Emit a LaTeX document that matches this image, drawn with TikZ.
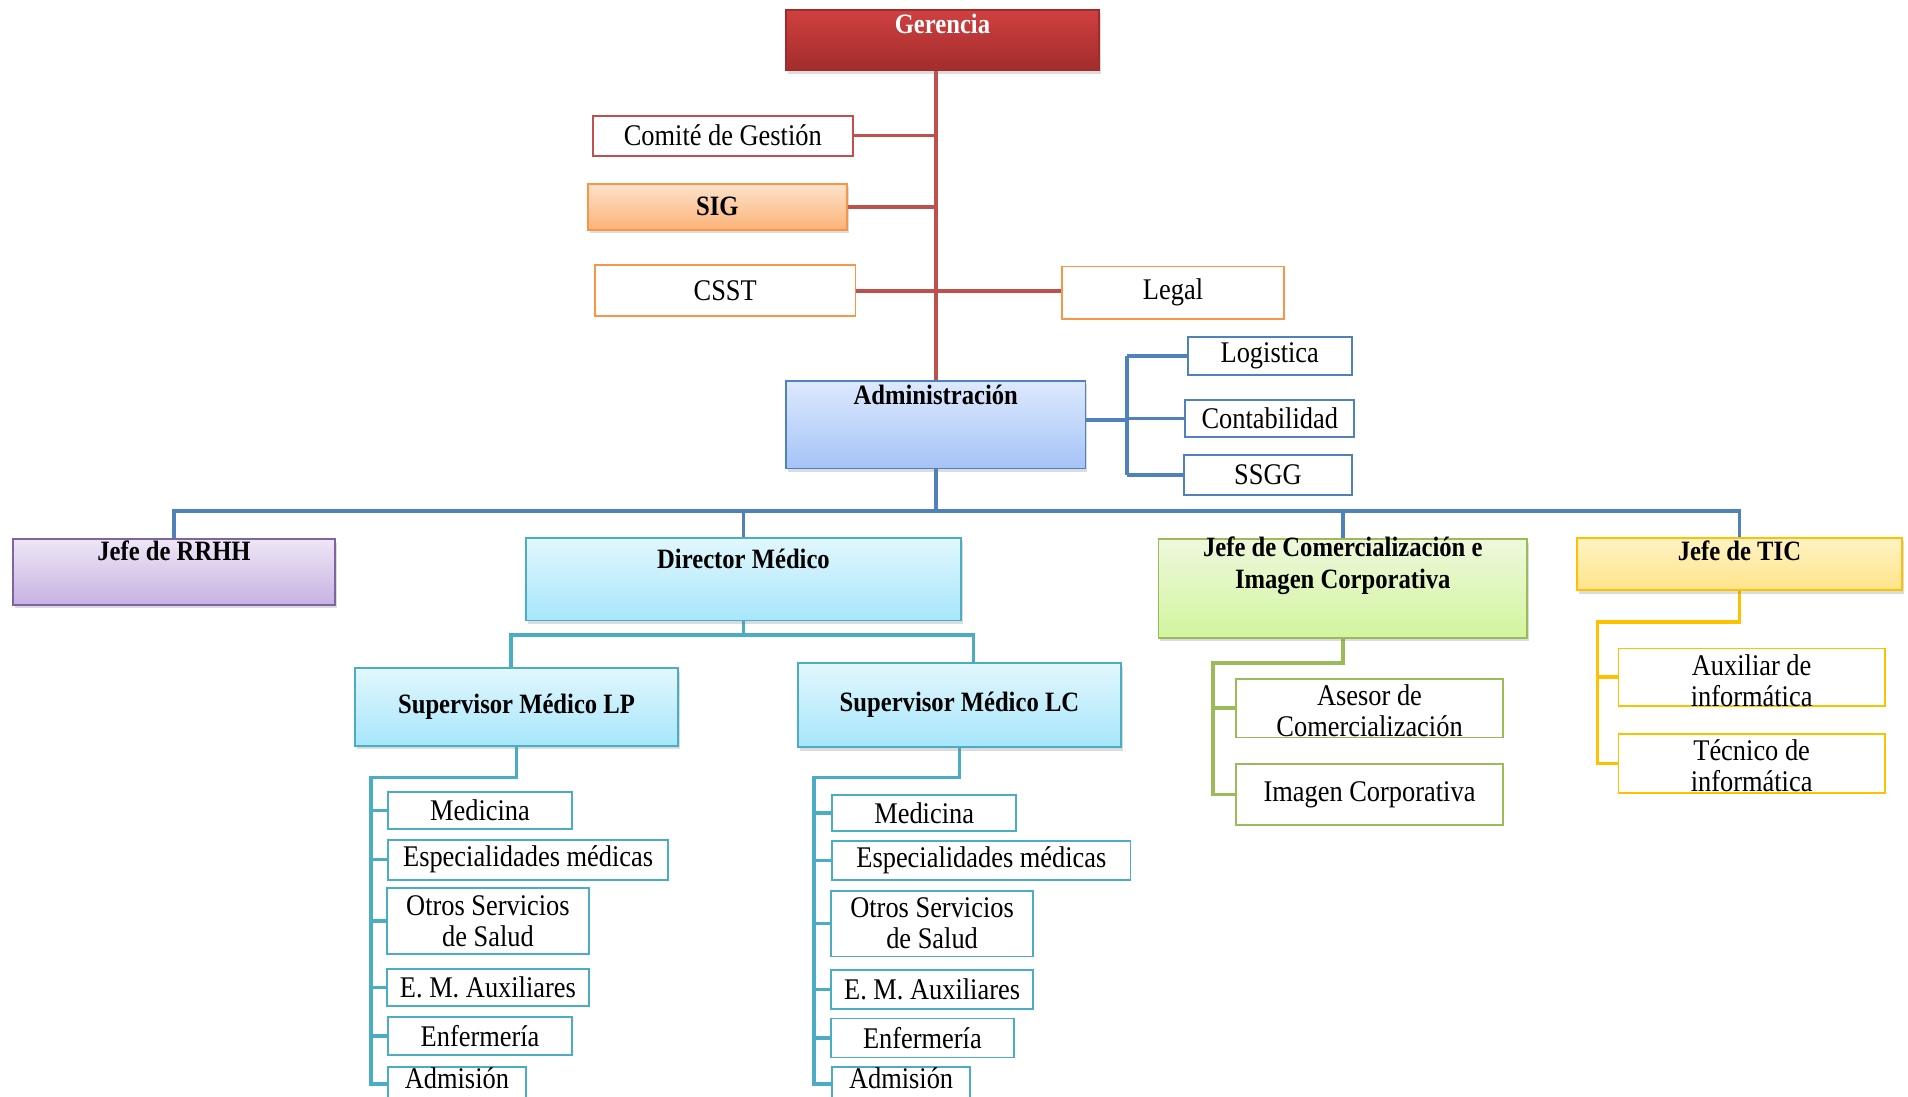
\documentclass[tikz,border=0pt]{standalone}
\usepackage{fontspec}
\setmainfont{Liberation Serif}[FakeStretch=0.88]
\usetikzlibrary{fit,shadows,calc}

\definecolor{lnRed}{HTML}{C0504D}
\definecolor{lnOrange}{HTML}{F79646}
\definecolor{lnBlue}{HTML}{4F81BD}
\definecolor{lnTeal}{HTML}{4BACC6}
\definecolor{lnGreen}{HTML}{9BBB59}
\definecolor{lnGold}{HTML}{FFC000}
\definecolor{lnPurple}{HTML}{8064A2}
\definecolor{lnDarkRed}{HTML}{A02B2B}

\pgfdeclarelayer{wires}
\pgfsetlayers{wires,main}

\tikzset{
  box/.style={draw, line width=1.8pt, inner sep=0pt, fill=white},
  shaded/.style={box, drop shadow={opacity=0.28, shadow xshift=2pt, shadow yshift=-3.5pt}},
  gerbox/.style={shaded, draw=lnDarkRed, top color={rgb,255:red,208;green,64;blue,64}, bottom color={rgb,255:red,162;green,44;blue,44}},
  sigbox/.style={shaded, draw=lnOrange, top color={rgb,255:red,253;green,227;blue,204}, bottom color={rgb,255:red,251;green,178;blue,118}},
  admbox/.style={shaded, draw=lnBlue, top color={rgb,255:red,221;green,233;blue,253}, bottom color={rgb,255:red,165;green,195;blue,247}},
  rrhhbox/.style={shaded, draw=lnPurple, top color={rgb,255:red,238;green,230;blue,246}, bottom color={rgb,255:red,198;green,178;blue,226}},
  tealbox/.style={shaded, draw=lnTeal, top color={rgb,255:red,226;green,247;blue,253}, bottom color={rgb,255:red,167;green,230;blue,251}},
  greenbox/.style={shaded, draw=lnGreen, top color={rgb,255:red,238;green,248;blue,220}, bottom color={rgb,255:red,210;green,245;blue,158}},
  goldbox/.style={shaded, draw=lnGold, top color={rgb,255:red,255;green,243;blue,196}, bottom color={rgb,255:red,255;green,228;blue,138}},
  redwhite/.style={box, draw=lnRed},
  orangewhite/.style={box, draw=lnOrange},
  bluewhite/.style={box, draw=lnBlue},
  tealwhite/.style={box, draw=lnTeal},
  greenwhite/.style={box, draw=lnGreen},
  goldwhite/.style={box, draw=lnGold},
  reg/.style={font=\fontsize{30}{31}\selectfont, align=center, inner sep=0pt},
  bld/.style={font=\bfseries\fontsize{28}{32}\selectfont, align=center, inner sep=0pt},
  wire/.style={line width=3.5pt, line join=miter},
}

% box with centred text: style, text style, name, x1, y1, x2, y2, text
\newcommand\orgbox[8]{%
  \node[#1, fit={(#4,#5)(#6,#7)}] (#3) {};
  \node[#2] (#3-t) at (#3.center) {#8};}
% box with text near its top edge: offset from top edge as last argument
\newcommand\orgtop[9]{%
  \node[#1, fit={(#4,#5)(#6,#7)}] (#3) {};
  \node[#2] (#3-t) at ($(#3.north)+(0,#9)$) {#8};}

\begin{document}
\begin{tikzpicture}[x=1.2168pt, y=-1.2168pt]
\useasboundingbox (0,0) rectangle (1568,901);
\clip (0,0) rectangle (1568,901);

% top management and staff units
\orgtop{gerbox}{bld, text=white}{ger}{646}{8}{903}{58}{Gerencia}{12}
\orgbox{redwhite}{reg}{com}{487}{95}{701}{128}{Comité de Gestión}
\orgbox{sigbox}{bld}{sig}{483}{151}{696}{189}{SIG}
\orgbox{orangewhite}{reg}{csst}{489}{218}{703}{260}{CSST}
\orgbox{orangewhite}{reg}{legal}{873}{219}{1055}{262}{Legal}

% administration
\orgtop{admbox}{bld}{adm}{646}{313}{892}{385}{Administración}{12}
\orgbox{bluewhite}{reg}{log}{976}{277}{1111}{308}{Logistica}
\orgbox{bluewhite}{reg}{cont}{974}{329}{1113}{359}{Contabilidad}
\orgbox{bluewhite}{reg}{ssgg}{973}{374}{1111}{407}{SSGG}

% department heads
\orgtop{rrhhbox}{bld}{rrhh}{11}{443}{275}{497}{Jefe de RRHH}{10}
\orgtop{tealbox}{bld}{dir}{432}{442}{790}{510}{Director Médico}{18}
\orgtop{greenbox}{bld}{jcom}{952}{443}{1255}{524}{Jefe de Comercialización e\\Imagen Corporativa}{23}
\orgtop{goldbox}{bld}{tic}{1296}{442}{1563}{485}{Jefe de TIC}{11}

% medical supervisors
\orgbox{tealbox}{bld}{lp}{292}{549}{557}{613}{Supervisor Médico LP}
\orgbox{tealbox}{bld}{lc}{656}{545}{921}{614}{Supervisor Médico LC}

% services under LP
\orgbox{tealwhite}{reg}{lpa}{319}{651}{470}{681}{Medicina}
\orgbox{tealwhite}{reg}{lpb}{319}{690}{549}{723}{Especialidades médicas}
\orgbox{tealwhite}{reg}{lpc}{318}{730}{484}{784}{Otros Servicios\\de Salud}
\orgbox{tealwhite}{reg}{lpd}{318}{796}{484}{827}{E. M. Auxiliares}
\orgbox{tealwhite}{reg}{lpe}{319}{836}{470}{867}{Enfermería}
\orgtop{tealwhite}{reg}{lpf}{319}{877}{432}{905}{Admisión}{10}

% services under LC
\orgbox{tealwhite}{reg}{lca}{684}{653}{835}{683}{Medicina}
\orgbox{tealwhite}{reg}{lcb}{684}{691}{929}{723}{Especialidades médicas}
\orgbox{tealwhite}{reg}{lcc}{683}{732}{849}{786}{Otros Servicios\\de Salud}
\orgbox{tealwhite}{reg}{lcd}{683}{797}{849}{829}{E. M. Auxiliares}
\orgbox{tealwhite}{reg}{lce}{683}{837}{833}{869}{Enfermería}
\orgtop{tealwhite}{reg}{lcf}{684}{877}{797}{905}{Admisión}{10}

% commercial and IT staff
\orgtop{greenwhite}{reg}{ase}{1016}{558}{1235}{606}{Asesor de\\Comercialización}{27}
\orgbox{greenwhite}{reg}{img}{1016}{628}{1235}{678}{Imagen Corporativa}
\orgtop{goldwhite}{reg}{aux}{1330}{533}{1549}{580}{Auxiliar de\\informática}{27}
\orgtop{goldwhite}{reg}{tec}{1330}{603}{1549}{652}{Técnico de\\informática}{27}

\begin{pgfonlayer}{wires}
  % management spine
  \draw[wire, lnRed] (adm.north) -- (adm.north |- ger.south);
  \draw[wire, lnRed] (com.east) -- (com.east -| adm.north);
  \draw[wire, lnRed] (sig.east) -- (sig.east -| adm.north);
  \draw[wire, lnRed] (csst.east) -- (csst.east -| legal.west);

  % administration units
  \coordinate (abus) at (926,345);
  \draw[wire, lnBlue] (abus -| adm.east) -- (abus);
  \draw[wire, lnBlue] (abus |- log.west) -- (abus |- ssgg.west);
  \draw[wire, lnBlue] (abus |- log.west) -- (log.west);
  \draw[wire, lnBlue] (abus |- cont.west) -- (cont.west);
  \draw[wire, lnBlue] (abus |- ssgg.west) -- (ssgg.west);

  % department heads bus
  \coordinate (mbus) at (768,420);
  \draw[wire, lnBlue] (adm.south) -- (adm.south |- mbus);
  \draw[wire, lnBlue] (rrhh.north) -- (rrhh.north |- mbus) -- (tic.north |- mbus) -- (tic.north);
  \draw[wire, lnBlue] (dir.north |- mbus) -- (dir.north);
  \draw[wire, lnBlue] (jcom.north |- mbus) -- (jcom.north);

  % medical direction
  \coordinate (dbus) at (612,522);
  \coordinate (dl) at (420,522);
  \coordinate (dr) at (800,522);
  \draw[wire, lnTeal] (dir.south) -- (dir.south |- dbus);
  \draw[wire, lnTeal] (dl |- lp.north) -- (dl) -- (dr) -- (dr |- lc.north);

  \coordinate (lpbus) at (305,639);
  \draw[wire, lnTeal] (lp.south) -- (lp.south |- lpbus) -- (lpbus) -- (lpbus |- lpf.west) -- (lpf.west);
  \foreach \n in {lpa,lpb,lpc,lpd,lpe}
    \draw[wire, lnTeal] (lpbus |- \n.west) -- (\n.west);

  \coordinate (lcbus) at (669,639);
  \draw[wire, lnTeal] (lc.south) -- (lc.south |- lcbus) -- (lcbus) -- (lcbus |- lcf.west) -- (lcf.west);
  \foreach \n in {lca,lcb,lcc,lcd,lce}
    \draw[wire, lnTeal] (lcbus |- \n.west) -- (\n.west);

  % commercial area
  \coordinate (cbus) at (997,545);
  \draw[wire, lnGreen] (jcom.south) -- (jcom.south |- cbus) -- (cbus) -- (cbus |- img.west) -- (img.west);
  \draw[wire, lnGreen] (cbus |- ase.west) -- (ase.west);

  % IT area
  \coordinate (tbus) at (1313,511);
  \draw[wire, lnGold] (tic.south) -- (tic.south |- tbus) -- (tbus) -- (tbus |- tec.west) -- (tec.west);
  \draw[wire, lnGold] (tbus |- aux.west) -- (aux.west);
\end{pgfonlayer}
\end{tikzpicture}
\end{document}
